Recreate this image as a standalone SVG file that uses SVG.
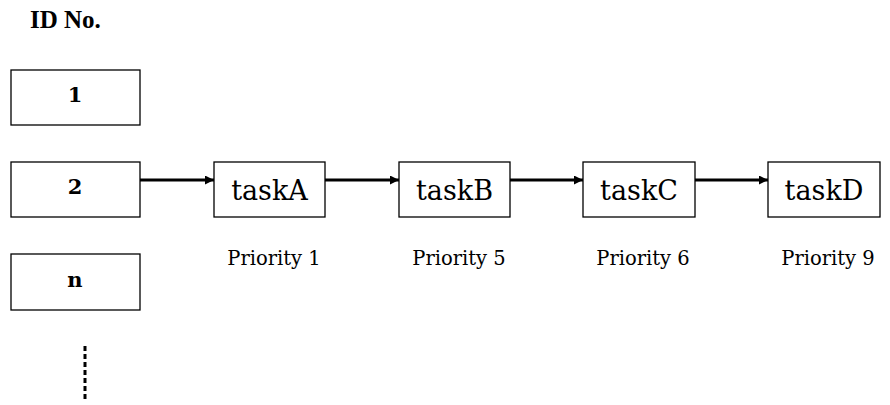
<svg xmlns="http://www.w3.org/2000/svg" width="890" height="405" viewBox="0 0 890 405">
<style>
.box{fill:#fff;stroke:#000;stroke-width:1.3}
.id{font-family:"DejaVu Serif","Liberation Serif",serif;font-weight:bold;font-size:21px;text-anchor:middle}
.task{font-family:"DejaVu Serif","Liberation Serif",serif;font-size:27px;text-anchor:middle}
.pri{font-family:"DejaVu Serif","Liberation Serif",serif;font-size:19.5px;text-anchor:middle}
.conn{stroke:#000;stroke-width:3;fill:none;marker-end:url(#ah)}
</style>
<defs>
<marker id="ah" viewBox="0 0 10 10" refX="10" refY="5" markerWidth="4.4" markerHeight="3" orient="auto" markerUnits="strokeWidth">
<path d="M0,0 L10,5 L0,10 z" fill="#000"/>
</marker>
</defs>
<text x="30" y="28" font-family="Liberation Serif, DejaVu Serif, serif" font-weight="bold" font-size="25">ID No.</text>
<g id="id1"><rect class="box" x="11" y="70" width="129" height="55"/><text class="id" x="75" y="102">1</text></g>
<g id="id2"><rect class="box" x="11" y="162" width="129" height="55"/><text class="id" x="75" y="194">2</text></g>
<g id="idn"><rect class="box" x="11" y="254" width="129" height="56"/><text class="id" x="75" y="287">n</text></g>
<g id="taskA"><rect class="box" x="214" y="162" width="111" height="55"/><text class="task" x="269.5" y="200">taskA</text></g>
<g id="taskB"><rect class="box" x="399" y="162" width="111" height="55"/><text class="task" x="454.5" y="200">taskB</text></g>
<g id="taskC"><rect class="box" x="583" y="162" width="112" height="55"/><text class="task" x="639" y="200">taskC</text></g>
<g id="taskD"><rect class="box" x="768" y="162" width="112" height="55"/><text class="task" x="824" y="200">taskD</text></g>
<g id="priorities">
<text class="pri" x="274" y="265">Priority 1</text>
<text class="pri" x="459" y="265">Priority 5</text>
<text class="pri" x="643" y="265">Priority 6</text>
<text class="pri" x="828" y="265">Priority 9</text>
</g>
<g id="connectors">
<line class="conn" x1="140" y1="180" x2="214" y2="180"/>
<line class="conn" x1="325" y1="180" x2="399" y2="180"/>
<line class="conn" x1="510" y1="180" x2="583" y2="180"/>
<line class="conn" x1="695" y1="180" x2="768" y2="180"/>
<line x1="85" y1="346" x2="85" y2="402" stroke="#000" stroke-width="3" stroke-dasharray="5,3"/>
</g>
</svg>
